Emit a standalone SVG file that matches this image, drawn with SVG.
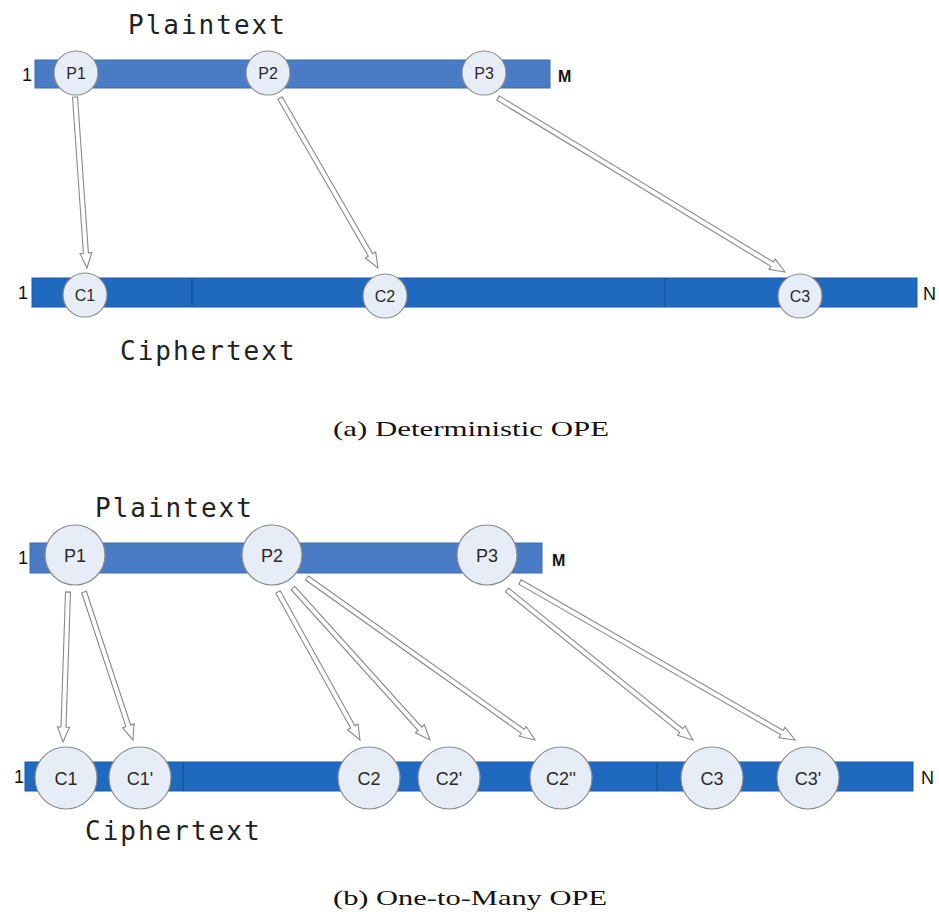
<svg xmlns="http://www.w3.org/2000/svg" width="939" height="919" viewBox="0 0 939 919">
<style>
.pbar{fill:#4a7cc6;stroke:#3c6db0;stroke-width:1}
.cbar{fill:#1f69bf;stroke:#1a5aa8;stroke-width:1}
.div{stroke:#154a8a;stroke-width:1}
.node circle{fill:#e7edf6;stroke:#8c8c8c;stroke-width:1.2}
.lbl{font-family:"Liberation Sans",Arial,sans-serif;fill:#2a2a2a;text-anchor:middle}
.end{font-family:"Liberation Sans",Arial,sans-serif;fill:#111}
.title{font-family:"DejaVu Sans Mono","Liberation Mono",monospace;font-size:26px;fill:#222;letter-spacing:2px}
.cap{font-family:"Liberation Serif","Times New Roman",serif;font-size:22px;fill:#111}
.arr{fill:#fff;stroke:#8a8a8a;stroke-width:1.1;stroke-linejoin:miter}
</style>
<rect width="939" height="919" fill="#fff"/>

<!-- (a) Deterministic OPE -->
<g id="a-axes">
<text class="title" x="128" y="34">Plaintext</text>
<rect class="pbar" x="35" y="60" width="515" height="28"/>
<text class="end" x="22" y="81" font-size="18">1</text>
<text class="end" x="558" y="82" font-size="16" font-weight="bold">M</text>
<rect class="cbar" x="32" y="278" width="885" height="29"/>
<line class="div" x1="192" y1="278" x2="192" y2="307"/>
<line class="div" x1="665" y1="278" x2="665" y2="307"/>
<text class="end" x="18" y="299" font-size="18">1</text>
<text class="end" x="923" y="300" font-size="18">N</text>
<text class="title" x="120" y="360">Ciphertext</text>
<text class="cap" x="333" y="436" textLength="276" lengthAdjust="spacingAndGlyphs">(a)  Deterministic OPE</text>
</g>

<g id="a-connectors">
<path class="arr" transform="translate(75,97) rotate(86)" d="M0,-2.5 H156.4 V-6 L171.4,0 L156.4,6 V2.5 H0 Z"/>
<path class="arr" transform="translate(280,98) rotate(60.04)" d="M0,-2.5 H181.2 V-6 L196.2,0 L181.2,6 V2.5 H0 Z"/>
<path class="arr" transform="translate(498,98) rotate(31.23)" d="M0,-2.5 H320.6 V-6 L335.6,0 L320.6,6 V2.5 H0 Z"/>
</g>

<g id="a-P1" class="node"><circle cx="76" cy="73" r="22"/><text class="lbl" x="76" y="79" font-size="16">P1</text></g>
<g id="a-P2" class="node"><circle cx="268" cy="73" r="22"/><text class="lbl" x="268" y="79" font-size="16">P2</text></g>
<g id="a-P3" class="node"><circle cx="484" cy="73" r="22"/><text class="lbl" x="484" y="79" font-size="16">P3</text></g>
<g id="a-C1" class="node"><circle cx="85" cy="295" r="22"/><text class="lbl" x="85" y="301" font-size="16">C1</text></g>
<g id="a-C2" class="node"><circle cx="385" cy="296" r="22"/><text class="lbl" x="385" y="302" font-size="16">C2</text></g>
<g id="a-C3" class="node"><circle cx="800" cy="296" r="22"/><text class="lbl" x="800" y="302" font-size="16">C3</text></g>

<!-- (b) One-to-Many OPE -->
<g id="b-axes">
<text class="title" x="95" y="517">Plaintext</text>
<rect class="pbar" x="30" y="543" width="512" height="30"/>
<text class="end" x="18" y="564" font-size="18">1</text>
<text class="end" x="552" y="566" font-size="16" font-weight="bold">M</text>
<rect class="cbar" x="25" y="762" width="888" height="29"/>
<line class="div" x1="183" y1="762" x2="183" y2="791"/>
<line class="div" x1="657" y1="762" x2="657" y2="791"/>
<text class="end" x="14" y="783" font-size="18">1</text>
<text class="end" x="921" y="784" font-size="18">N</text>
<text class="title" x="85" y="840">Ciphertext</text>
<text class="cap" x="333" y="905" textLength="274" lengthAdjust="spacingAndGlyphs">(b)  One-to-Many OPE</text>
</g>

<g id="b-connectors">
<path class="arr" transform="translate(68,592) rotate(91.91)" d="M0,-2.5 H135.1 V-6 L150.1,0 L135.1,6 V2.5 H0 Z"/>
<path class="arr" transform="translate(84,592) rotate(71.68)" d="M0,-2.5 H140.9 V-6 L155.9,0 L140.9,6 V2.5 H0 Z"/>
<path class="arr" transform="translate(278,592) rotate(61.01)" d="M0,-2.5 H154.2 V-6 L169.2,0 L154.2,6 V2.5 H0 Z"/>
<path class="arr" transform="translate(293,588) rotate(47.97)" d="M0,-2.5 H189.6 V-6 L204.6,0 L189.6,6 V2.5 H0 Z"/>
<path class="arr" transform="translate(307,578) rotate(35.39)" d="M0,-2.5 H264.7 V-6 L279.7,0 L264.7,6 V2.5 H0 Z"/>
<path class="arr" transform="translate(507,590) rotate(38.89)" d="M0,-2.5 H223.9 V-6 L238.9,0 L223.9,6 V2.5 H0 Z"/>
<path class="arr" transform="translate(520,582) rotate(29.88)" d="M0,-2.5 H302.2 V-6 L317.2,0 L302.2,6 V2.5 H0 Z"/>
</g>

<g id="b-P1" class="node"><circle cx="75" cy="555" r="30"/><text class="lbl" x="75" y="562" font-size="18">P1</text></g>
<g id="b-P2" class="node"><circle cx="272" cy="555" r="30"/><text class="lbl" x="272" y="562" font-size="18">P2</text></g>
<g id="b-P3" class="node"><circle cx="487" cy="555" r="30"/><text class="lbl" x="487" y="562" font-size="18">P3</text></g>
<g id="b-C1" class="node"><circle cx="66" cy="778" r="31"/><text class="lbl" x="66" y="785" font-size="18">C1</text></g>
<g id="b-C1p" class="node"><circle cx="140" cy="778" r="31"/><text class="lbl" x="140" y="785" font-size="18">C1'</text></g>
<g id="b-C2" class="node"><circle cx="369" cy="778" r="31"/><text class="lbl" x="369" y="785" font-size="18">C2</text></g>
<g id="b-C2p" class="node"><circle cx="449" cy="778" r="31"/><text class="lbl" x="449" y="785" font-size="18">C2'</text></g>
<g id="b-C2pp" class="node"><circle cx="561" cy="778" r="31"/><text class="lbl" x="561" y="785" font-size="18">C2''</text></g>
<g id="b-C3" class="node"><circle cx="712" cy="778" r="31"/><text class="lbl" x="712" y="785" font-size="18">C3</text></g>
<g id="b-C3p" class="node"><circle cx="808" cy="778" r="31"/><text class="lbl" x="808" y="785" font-size="18">C3'</text></g>
</svg>
